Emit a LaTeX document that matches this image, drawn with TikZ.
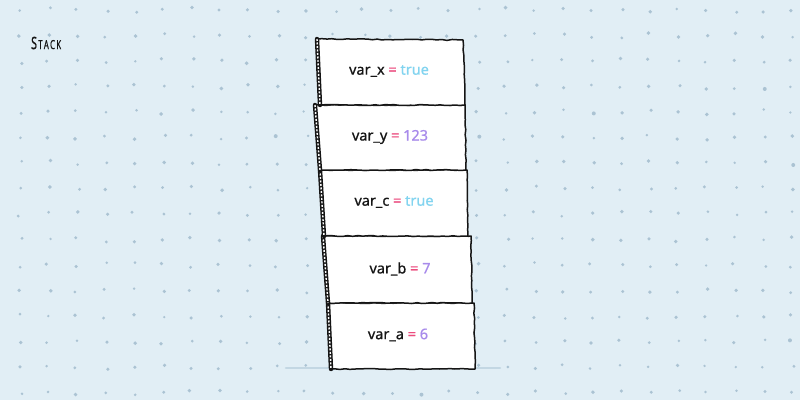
\documentclass[tikz,border=0pt]{standalone}
\usepackage{fontspec}
\usepackage{graphicx}
\setmainfont{Noto Sans}
\newfontfamily\medfont{Noto Sans}[FakeBold=0.8]
\usetikzlibrary{decorations.pathmorphing}
\definecolor{bg}{HTML}{E1EEF5}
\definecolor{dotc}{HTML}{ABC3D3}
\definecolor{eqc}{HTML}{EC4B7E}
\definecolor{truec}{HTML}{82D4F0}
\definecolor{numc}{HTML}{A88BEB}
\definecolor{groundc}{HTML}{C3D7E3}
\definecolor{inkc}{HTML}{151515}
\tikzset{
  boxfill/.style={fill=white},
  sketch/.style={draw=inkc, line width=1.5pt, line join=round,
    decorate, decoration={random steps, segment length=5pt, amplitude=0.5pt}},
  hatchedge/.style={draw=inkc, line width=4.4pt, line cap=round},
  hatchinner/.style={draw=white, line width=1.4pt, dash pattern=on 2pt off 1.5pt},
  lbl/.style={font=\fontsize{14.5}{17}\medfont, text=inkc, inner sep=0pt, anchor=center},
  title/.style={font=\medfont, text=inkc, anchor=west, inner sep=0pt},
  ground/.style={draw=groundc, line width=2.6pt, line cap=round},
  dot/.style={fill=dotc, draw=none}
}
\newcommand{\eqs}{\textcolor{eqc}{=}}
\begin{document}
\begin{tikzpicture}[x=1pt,y=-1pt]
\pgfmathsetseed{7}
\fill[bg] (0,0) rectangle (800,400);
\useasboundingbox (0,0) rectangle (800,400);
% dot grid
\foreach \i in {0,...,28}{
  \foreach \j in {0,...,15}{
    \pgfmathsetmacro{\dx}{20+28.6*\i+rand*2.5}
    \pgfmathsetmacro{\dy}{10+25.5*\j+rand*2.5}
    \pgfmathsetmacro{\dr}{1.3+rnd*0.7}
    \fill[dot] (\dx,\dy) circle (\dr);
  }
}
% ground line
\coordinate (g1) at (286,368);
\coordinate (g2) at (500,368);
\draw[ground] (g1) -- (g2);
% boxes: TL TR BR BL
\newcommand{\stackbox}[9]{%
  \coordinate (#1tl) at (#2);
  \coordinate (#1tr) at (#3);
  \coordinate (#1br) at (#4);
  \coordinate (#1bl) at (#5);
  \fill[boxfill] (#1tl) -- (#1tr) -- (#1br) -- (#1bl) -- cycle;
  \draw[sketch] (#1tl) -- (#1tr) -- (#1br) -- (#1bl);
  \draw[hatchedge] (#1tl) -- (#1bl);
  \draw[hatchinner] (#1tl) -- (#1bl);
  \node[lbl] (#1t) at (#6,#7) {\textcolor{inkc}{#8} \eqs{} #9};
}
\stackbox{a}{328,303}{474,303}{475,369}{331,369}{398}{335}{var\_a}{\textcolor{numc}{6}}
\stackbox{b}{323,236}{471,236}{472,303}{328,303}{400}{269}{var\_b}{\textcolor{numc}{7}}
\stackbox{c}{320,170}{467,170}{468,236}{324,236}{394}{202}{var\_c}{\textcolor{truec}{true}}
\stackbox{y}{315,105}{465,105}{466,170}{320,170}{390}{137}{var\_y}{\textcolor{numc}{123}}
\stackbox{x}{317,39}{463,40}{465,105}{320,105}{389}{71}{var\_x}{\textcolor{truec}{true}}
% title
\node[title] (ttl) at (31,43) {\textcolor{inkc}{\scalebox{0.62}[1]{\fontsize{17}{18}\selectfont S\fontsize{12.5}{14}\selectfont\,T\,A\,C\,K}}};
\end{tikzpicture}
\end{document}
